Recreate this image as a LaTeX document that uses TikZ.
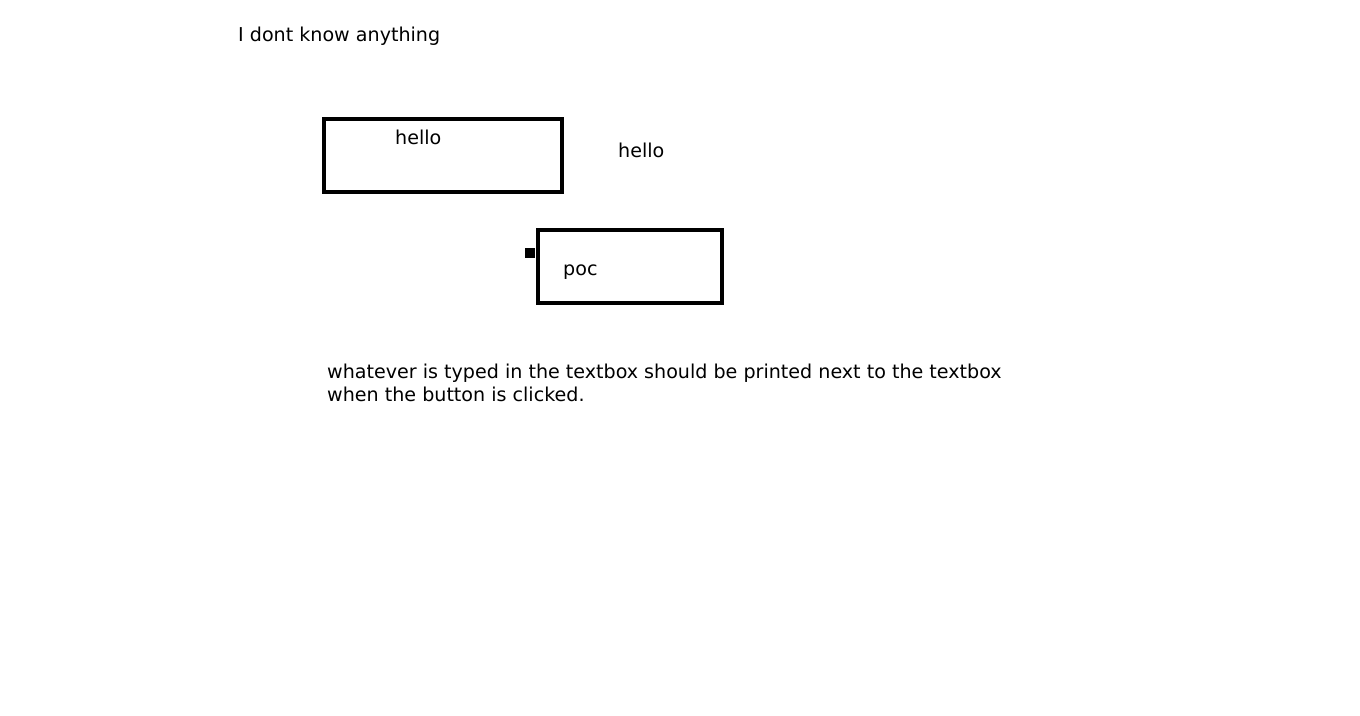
\documentclass[tikz,border=0pt]{standalone}
\usepackage{fontspec}
\setmainfont{DejaVu Sans}
\begin{document}
\begin{tikzpicture}[x=1pt,y=-1pt,
  lbl/.style={anchor=base west,inner sep=0pt,font=\fontsize{19.1}{23.3}\selectfont},
  boxstyle/.style={draw=black,line width=4.8pt,inner sep=0pt},
  handle/.style={fill=black,inner sep=0pt}]
\useasboundingbox[fill=white] (0,0) rectangle (1360,715);
\node[lbl] (title) at (238,41.5) {I dont know anything};
\node[boxstyle,minimum width=238pt,minimum height=73pt] (tbox) at (443,155.5) {};
\node[lbl] (hin) at (395,144.5) {hello};
\node[lbl] (hout) at (618,157.5) {hello};
\node[boxstyle,minimum width=184pt,minimum height=73pt] (btn) at (630,266.5) {};
\node[lbl] (poc) at (563,275) {poc};
\node[handle,minimum width=10pt,minimum height=10pt] (sq) at (530,253) {};
\node[lbl] (desc1) at (327,378.5) {whatever is typed in the textbox should be printed next to the textbox};
\node[lbl] (desc2) at (327,401.8) {when the button is clicked.};
\end{tikzpicture}
\end{document}
